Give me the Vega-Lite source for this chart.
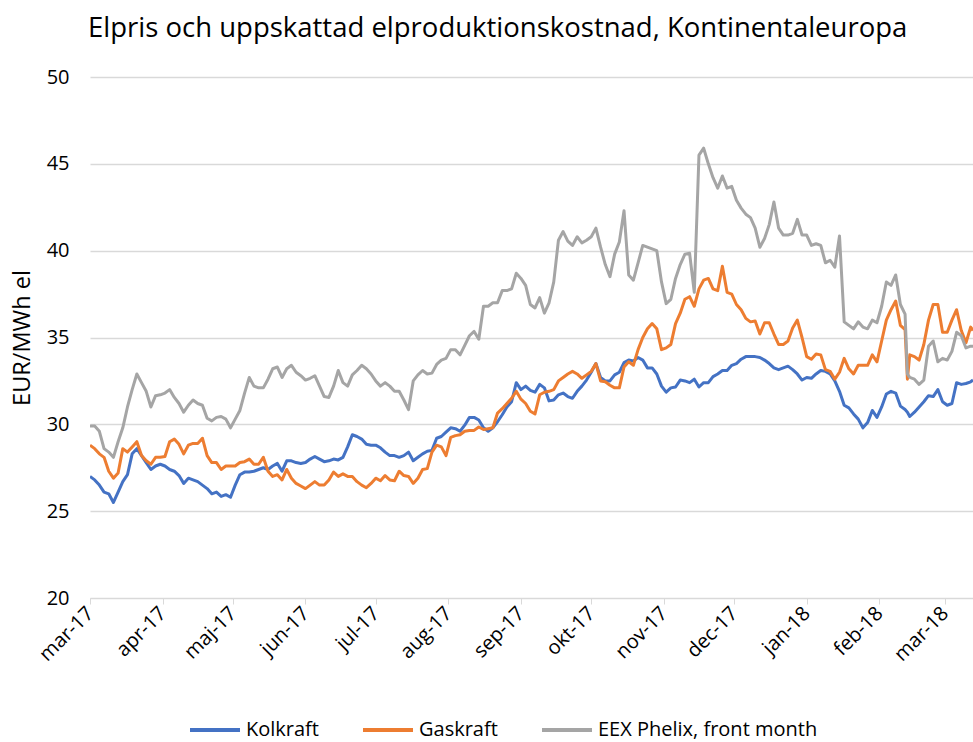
{
  "$schema": "https://vega.github.io/schema/vega-lite/v6.json",
  "width": 883,
  "height": 521,
  "autosize": "none",
  "padding": {"left": 90, "top": 77, "right": 0, "bottom": 144},
  "background": "white",
  "config": {
    "view": {"stroke": null},
    "font": "Open Sans"
  },
  "title": {
    "text": "Elpris och uppskattad elproduktionskostnad, Kontinentaleuropa",
    "anchor": "start",
    "frame": "group",
    "font": "Open Sans",
    "fontSize": 27.5,
    "fontWeight": "normal",
    "color": "#000000",
    "offset": 25,
    "dx": -2
  },
  "data": {
    "values": [
      {"d":"2017-03-01","k":27.0,"g":28.8,"e":29.9},
      {"d":"2017-03-03","k":26.8,"g":28.6,"e":29.9},
      {"d":"2017-03-05","k":26.5,"g":28.3,"e":29.6},
      {"d":"2017-03-07","k":26.1,"g":28.1,"e":28.6},
      {"d":"2017-03-09","k":26.0,"g":27.3,"e":28.4},
      {"d":"2017-03-11","k":25.5,"g":26.9,"e":28.1},
      {"d":"2017-03-13","k":26.1,"g":27.2,"e":29.0},
      {"d":"2017-03-15","k":26.7,"g":28.6,"e":29.8},
      {"d":"2017-03-17","k":27.1,"g":28.4,"e":31.0},
      {"d":"2017-03-19","k":28.3,"g":28.7,"e":32.0},
      {"d":"2017-03-21","k":28.6,"g":29.0,"e":32.9},
      {"d":"2017-03-23","k":28.2,"g":28.2,"e":32.4},
      {"d":"2017-03-25","k":27.8,"g":27.9,"e":31.9},
      {"d":"2017-03-27","k":27.4,"g":27.7,"e":31.0},
      {"d":"2017-03-29","k":27.6,"g":28.1,"e":31.65},
      {"d":"2017-03-31","k":27.7,"g":28.1,"e":31.7},
      {"d":"2017-04-02","k":27.6,"g":28.15,"e":31.8},
      {"d":"2017-04-04","k":27.4,"g":29.0,"e":32.0},
      {"d":"2017-04-06","k":27.3,"g":29.15,"e":31.55},
      {"d":"2017-04-08","k":27.05,"g":28.85,"e":31.2},
      {"d":"2017-04-10","k":26.6,"g":28.3,"e":30.7},
      {"d":"2017-04-12","k":26.9,"g":28.8,"e":31.1},
      {"d":"2017-04-14","k":26.8,"g":28.9,"e":31.4},
      {"d":"2017-04-16","k":26.7,"g":28.9,"e":31.2},
      {"d":"2017-04-18","k":26.5,"g":29.2,"e":31.1},
      {"d":"2017-04-20","k":26.3,"g":28.2,"e":30.35},
      {"d":"2017-04-22","k":26.0,"g":27.8,"e":30.2},
      {"d":"2017-04-24","k":26.1,"g":27.8,"e":30.4},
      {"d":"2017-04-26","k":25.85,"g":27.4,"e":30.45},
      {"d":"2017-04-28","k":25.95,"g":27.6,"e":30.3},
      {"d":"2017-04-30","k":25.8,"g":27.6,"e":29.8},
      {"d":"2017-05-02","k":26.5,"g":27.6,"e":30.3},
      {"d":"2017-05-04","k":27.1,"g":27.8,"e":30.8},
      {"d":"2017-05-06","k":27.25,"g":27.85,"e":31.8},
      {"d":"2017-05-08","k":27.25,"g":28.0,"e":32.7},
      {"d":"2017-05-10","k":27.3,"g":27.7,"e":32.2},
      {"d":"2017-05-12","k":27.4,"g":27.7,"e":32.1},
      {"d":"2017-05-14","k":27.5,"g":28.1,"e":32.1},
      {"d":"2017-05-16","k":27.4,"g":27.3,"e":32.6},
      {"d":"2017-05-18","k":27.6,"g":27.0,"e":33.2},
      {"d":"2017-05-20","k":27.75,"g":27.1,"e":33.3},
      {"d":"2017-05-22","k":27.3,"g":26.8,"e":32.7},
      {"d":"2017-05-24","k":27.9,"g":27.4,"e":33.2},
      {"d":"2017-05-26","k":27.9,"g":26.9,"e":33.4},
      {"d":"2017-05-28","k":27.8,"g":26.6,"e":33.0},
      {"d":"2017-05-30","k":27.75,"g":26.45,"e":32.8},
      {"d":"2017-06-01","k":27.8,"g":26.3,"e":32.55},
      {"d":"2017-06-03","k":28.0,"g":26.5,"e":32.65},
      {"d":"2017-06-05","k":28.15,"g":26.7,"e":32.8},
      {"d":"2017-06-07","k":28.0,"g":26.5,"e":32.2},
      {"d":"2017-06-09","k":27.85,"g":26.5,"e":31.6},
      {"d":"2017-06-11","k":27.9,"g":26.8,"e":31.55},
      {"d":"2017-06-13","k":28.0,"g":27.25,"e":32.2},
      {"d":"2017-06-15","k":27.95,"g":27.0,"e":33.1},
      {"d":"2017-06-17","k":28.1,"g":27.15,"e":32.4},
      {"d":"2017-06-19","k":28.7,"g":27.0,"e":32.2},
      {"d":"2017-06-21","k":29.4,"g":27.0,"e":32.85},
      {"d":"2017-06-23","k":29.3,"g":26.7,"e":33.1},
      {"d":"2017-06-25","k":29.15,"g":26.5,"e":33.4},
      {"d":"2017-06-27","k":28.85,"g":26.35,"e":33.2},
      {"d":"2017-06-29","k":28.8,"g":26.6,"e":32.9},
      {"d":"2017-07-01","k":28.8,"g":26.9,"e":32.5},
      {"d":"2017-07-03","k":28.65,"g":26.75,"e":32.2},
      {"d":"2017-07-05","k":28.4,"g":27.05,"e":32.4},
      {"d":"2017-07-07","k":28.2,"g":26.8,"e":32.2},
      {"d":"2017-07-09","k":28.2,"g":26.75,"e":31.9},
      {"d":"2017-07-11","k":28.1,"g":27.3,"e":31.9},
      {"d":"2017-07-13","k":28.2,"g":27.05,"e":31.4},
      {"d":"2017-07-15","k":28.4,"g":27.0,"e":30.85},
      {"d":"2017-07-17","k":27.9,"g":26.6,"e":32.5},
      {"d":"2017-07-19","k":28.1,"g":26.9,"e":32.85},
      {"d":"2017-07-21","k":28.3,"g":27.4,"e":33.1},
      {"d":"2017-07-23","k":28.45,"g":27.45,"e":32.9},
      {"d":"2017-07-25","k":28.5,"g":28.4,"e":32.95},
      {"d":"2017-07-27","k":29.2,"g":28.8,"e":33.45},
      {"d":"2017-07-29","k":29.3,"g":28.7,"e":33.7},
      {"d":"2017-07-31","k":29.55,"g":28.2,"e":33.8},
      {"d":"2017-08-02","k":29.8,"g":29.25,"e":34.3},
      {"d":"2017-08-04","k":29.75,"g":29.35,"e":34.3},
      {"d":"2017-08-06","k":29.6,"g":29.4,"e":34.0},
      {"d":"2017-08-08","k":29.95,"g":29.6,"e":34.55},
      {"d":"2017-08-10","k":30.4,"g":29.65,"e":35.1},
      {"d":"2017-08-12","k":30.4,"g":29.65,"e":35.35},
      {"d":"2017-08-14","k":30.25,"g":29.85,"e":34.9},
      {"d":"2017-08-16","k":29.8,"g":29.7,"e":36.8},
      {"d":"2017-08-18","k":29.6,"g":29.75,"e":36.8},
      {"d":"2017-08-20","k":29.8,"g":29.8,"e":37.0},
      {"d":"2017-08-22","k":30.15,"g":30.65,"e":37.0},
      {"d":"2017-08-24","k":30.55,"g":30.9,"e":37.7},
      {"d":"2017-08-26","k":31.0,"g":31.2,"e":37.7},
      {"d":"2017-08-28","k":31.3,"g":31.5,"e":37.8},
      {"d":"2017-08-30","k":32.4,"g":31.9,"e":38.7},
      {"d":"2017-09-01","k":32.0,"g":31.45,"e":38.4},
      {"d":"2017-09-03","k":32.2,"g":31.2,"e":38.0},
      {"d":"2017-09-05","k":31.95,"g":30.75,"e":36.9},
      {"d":"2017-09-07","k":31.85,"g":30.6,"e":36.7},
      {"d":"2017-09-09","k":32.3,"g":31.7,"e":37.3},
      {"d":"2017-09-11","k":32.1,"g":31.85,"e":36.4},
      {"d":"2017-09-13","k":31.35,"g":31.9,"e":37.0},
      {"d":"2017-09-15","k":31.4,"g":32.0,"e":38.2},
      {"d":"2017-09-17","k":31.7,"g":32.5,"e":40.6},
      {"d":"2017-09-19","k":31.8,"g":32.7,"e":41.1},
      {"d":"2017-09-21","k":31.6,"g":32.9,"e":40.55},
      {"d":"2017-09-23","k":31.5,"g":33.05,"e":40.3},
      {"d":"2017-09-25","k":31.9,"g":32.9,"e":40.8},
      {"d":"2017-09-27","k":32.2,"g":32.65,"e":40.45},
      {"d":"2017-09-29","k":32.55,"g":32.85,"e":40.6},
      {"d":"2017-10-01","k":33.0,"g":33.05,"e":40.8},
      {"d":"2017-10-03","k":33.5,"g":33.5,"e":41.3},
      {"d":"2017-10-05","k":32.7,"g":32.5,"e":40.2},
      {"d":"2017-10-07","k":32.5,"g":32.45,"e":39.2},
      {"d":"2017-10-09","k":32.5,"g":32.25,"e":38.5},
      {"d":"2017-10-11","k":32.85,"g":32.1,"e":39.8},
      {"d":"2017-10-13","k":33.0,"g":32.1,"e":40.5},
      {"d":"2017-10-15","k":33.55,"g":33.3,"e":42.3},
      {"d":"2017-10-17","k":33.7,"g":33.6,"e":38.6},
      {"d":"2017-10-19","k":33.65,"g":33.4,"e":38.3},
      {"d":"2017-10-21","k":33.85,"g":34.3,"e":39.3},
      {"d":"2017-10-23","k":33.7,"g":35.0,"e":40.3},
      {"d":"2017-10-25","k":33.25,"g":35.5,"e":40.2},
      {"d":"2017-10-27","k":33.25,"g":35.8,"e":40.1},
      {"d":"2017-10-29","k":32.9,"g":35.5,"e":40.0},
      {"d":"2017-10-31","k":32.2,"g":34.3,"e":38.2},
      {"d":"2017-11-02","k":31.85,"g":34.4,"e":36.95},
      {"d":"2017-11-04","k":32.1,"g":34.6,"e":37.2},
      {"d":"2017-11-06","k":32.15,"g":35.8,"e":38.4},
      {"d":"2017-11-08","k":32.55,"g":36.4,"e":39.2},
      {"d":"2017-11-10","k":32.5,"g":37.2,"e":39.8},
      {"d":"2017-11-12","k":32.4,"g":37.35,"e":39.85},
      {"d":"2017-11-14","k":32.6,"g":36.8,"e":37.6},
      {"d":"2017-11-16","k":32.15,"g":37.8,"e":45.5},
      {"d":"2017-11-18","k":32.4,"g":38.3,"e":45.9},
      {"d":"2017-11-20","k":32.4,"g":38.4,"e":45.0},
      {"d":"2017-11-22","k":32.75,"g":37.8,"e":44.2},
      {"d":"2017-11-24","k":32.9,"g":37.7,"e":43.6},
      {"d":"2017-11-26","k":33.1,"g":39.1,"e":44.3},
      {"d":"2017-11-28","k":33.1,"g":37.6,"e":43.6},
      {"d":"2017-11-30","k":33.4,"g":37.5,"e":43.7},
      {"d":"2017-12-02","k":33.5,"g":36.9,"e":42.9},
      {"d":"2017-12-04","k":33.75,"g":36.6,"e":42.45},
      {"d":"2017-12-06","k":33.9,"g":36.1,"e":42.1},
      {"d":"2017-12-08","k":33.9,"g":35.9,"e":41.9},
      {"d":"2017-12-10","k":33.9,"g":35.95,"e":41.3},
      {"d":"2017-12-12","k":33.85,"g":35.2,"e":40.2},
      {"d":"2017-12-14","k":33.7,"g":35.85,"e":40.7},
      {"d":"2017-12-16","k":33.5,"g":35.85,"e":41.5},
      {"d":"2017-12-18","k":33.25,"g":35.2,"e":42.8},
      {"d":"2017-12-20","k":33.15,"g":34.6,"e":41.3},
      {"d":"2017-12-22","k":33.25,"g":34.6,"e":40.9},
      {"d":"2017-12-24","k":33.35,"g":34.8,"e":40.9},
      {"d":"2017-12-26","k":33.15,"g":35.55,"e":41.0},
      {"d":"2017-12-28","k":32.9,"g":36.0,"e":41.8},
      {"d":"2017-12-30","k":32.55,"g":35.0,"e":40.9},
      {"d":"2018-01-01","k":32.7,"g":33.9,"e":40.9},
      {"d":"2018-01-03","k":32.65,"g":33.75,"e":40.3},
      {"d":"2018-01-05","k":32.9,"g":34.05,"e":40.4},
      {"d":"2018-01-07","k":33.1,"g":34.0,"e":40.3},
      {"d":"2018-01-09","k":33.05,"g":33.15,"e":39.3},
      {"d":"2018-01-11","k":32.9,"g":33.05,"e":39.45},
      {"d":"2018-01-13","k":32.5,"g":32.6,"e":39.05},
      {"d":"2018-01-15","k":31.9,"g":33.0,"e":40.85},
      {"d":"2018-01-17","k":31.1,"g":33.8,"e":35.9},
      {"d":"2018-01-19","k":30.95,"g":33.2,"e":35.7},
      {"d":"2018-01-21","k":30.6,"g":32.9,"e":35.5},
      {"d":"2018-01-23","k":30.3,"g":33.4,"e":35.9},
      {"d":"2018-01-25","k":29.8,"g":33.4,"e":35.6},
      {"d":"2018-01-27","k":30.1,"g":33.4,"e":35.5},
      {"d":"2018-01-29","k":30.8,"g":34.0,"e":36.0},
      {"d":"2018-01-31","k":30.4,"g":33.6,"e":35.85},
      {"d":"2018-02-02","k":31.0,"g":34.8,"e":36.8},
      {"d":"2018-02-04","k":31.75,"g":36.0,"e":38.2},
      {"d":"2018-02-06","k":31.9,"g":36.6,"e":38.0},
      {"d":"2018-02-08","k":31.8,"g":37.1,"e":38.6},
      {"d":"2018-02-10","k":31.05,"g":35.7,"e":36.9},
      {"d":"2018-02-12","k":30.85,"g":35.45,"e":36.35},
      {"d":"2018-02-13","k":30.7,"g":32.6,"e":32.9},
      {"d":"2018-02-14","k":30.45,"g":34.0,"e":32.7},
      {"d":"2018-02-16","k":30.7,"g":33.9,"e":32.6},
      {"d":"2018-02-18","k":31.0,"g":33.7,"e":32.3},
      {"d":"2018-02-20","k":31.3,"g":34.6,"e":32.55},
      {"d":"2018-02-22","k":31.65,"g":36.0,"e":34.5},
      {"d":"2018-02-24","k":31.6,"g":36.9,"e":34.8},
      {"d":"2018-02-26","k":32.0,"g":36.9,"e":33.6},
      {"d":"2018-02-28","k":31.3,"g":35.3,"e":33.8},
      {"d":"2018-03-02","k":31.1,"g":35.3,"e":33.7},
      {"d":"2018-03-04","k":31.2,"g":36.0,"e":34.2},
      {"d":"2018-03-06","k":32.4,"g":36.6,"e":35.3},
      {"d":"2018-03-08","k":32.3,"g":35.4,"e":35.1},
      {"d":"2018-03-10","k":32.35,"g":34.7,"e":34.4},
      {"d":"2018-03-12","k":32.45,"g":35.6,"e":34.5},
      {"d":"2018-03-13","k":32.55,"g":35.4,"e":34.5}
    ]
  },
  "transform": [
    {"fold": ["k", "g", "e"], "as": ["serie", "value"]}
  ],
  "mark": {"type": "line", "strokeWidth": 3, "strokeJoin": "round", "clip": true},
  "encoding": {
    "x": {
      "field": "d",
      "type": "temporal",
      "scale": {
        "type": "utc",
        "domain": ["2017-03-01", "2018-03-13"]
      },
      "axis": {
        "title": null,
        "grid": false,
        "domain": true,
        "domainColor": "#d9d9d9",
        "domainWidth": 1,
        "ticks": true,
        "tickColor": "#d9d9d9",
        "tickSize": 6,
        "tickCount": {"interval": "month", "step": 1},
        "labelAngle": -45,
        "labelAlign": "right",
        "labelBaseline": "middle",
        "labelFont": "Open Sans",
        "labelFontSize": 20,
        "labelColor": "#000000",
        "labelPadding": 6,
        "labelOverlap": false,
        "labelFlush": false,
        "labelExpr": "substring('janfebmaraprmajjunjulaugsepoktnovdec', utcmonth(datum.value) * 3, utcmonth(datum.value) * 3 + 3) + '-' + utcFormat(datum.value, '%y')"
      }
    },
    "y": {
      "field": "value",
      "type": "quantitative",
      "scale": {"domain": [20, 50], "nice": false, "zero": false},
      "axis": {
        "title": "EUR/MWh el",
        "titleFont": "Open Sans",
        "titleFontSize": 23.5,
        "titleFontWeight": "normal",
        "titleColor": "#000000",
        "titleX": -68,
        "titleY": 260.5,
        "titleAngle": -90,
        "titleAlign": "center",
        "titleBaseline": "middle",
        "values": [20, 25, 30, 35, 40, 45, 50],
        "grid": true,
        "gridColor": "#d9d9d9",
        "gridWidth": 1.5,
        "domain": false,
        "ticks": false,
        "labelFont": "Open Sans",
        "labelFontSize": 20,
        "labelColor": "#000000",
        "labelPadding": 21
      }
    },
    "color": {
      "field": "serie",
      "type": "nominal",
      "scale": {
        "domain": ["k", "g", "e"],
        "range": ["#4472C4", "#ED7D31", "#A5A5A5"]
      },
      "legend": {
        "title": null,
        "orient": "none",
        "direction": "horizontal",
        "legendX": 98,
        "legendY": 626,
        "symbolType": "stroke",
        "symbolStrokeWidth": 4,
        "symbolSize": 2500,
        "labelFont": "Open Sans",
        "labelFontSize": 20,
        "labelColor": "#000000",
        "labelOffset": 4,
        "labelLimit": 400,
        "columnPadding": 36,
        "labelExpr": "datum.label == 'k' ? 'Kolkraft' : datum.label == 'g' ? 'Gaskraft' : 'EEX Phelix, front month'"
      }
    },
    "order": {"field": "d", "type": "temporal"}
  }
}
